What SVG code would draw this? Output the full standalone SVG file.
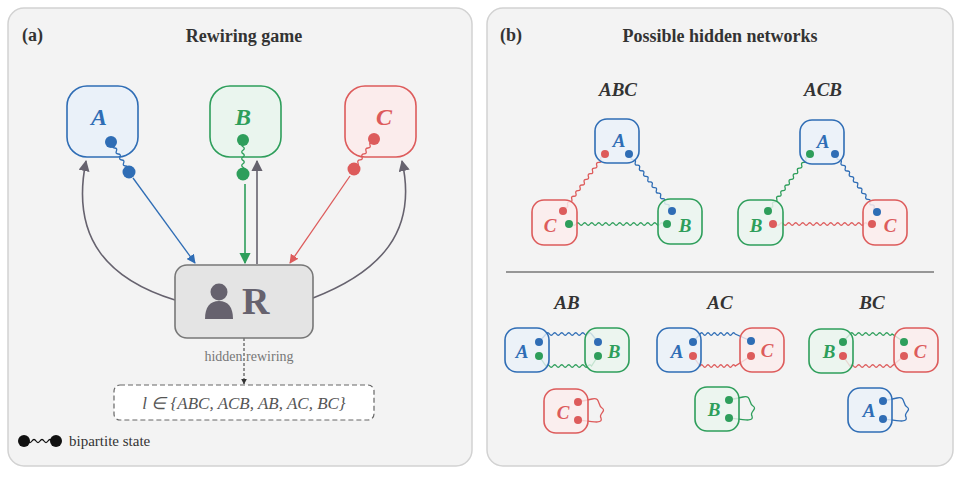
<svg xmlns="http://www.w3.org/2000/svg" width="960" height="490" viewBox="0 0 960 490">
<style>
.panel{fill:#f3f3f3;stroke:#d2d2d2;stroke-width:1.5}
.ttl{font-family:"Liberation Serif",serif;font-weight:bold;font-size:18px;fill:#333}
.lbl{font-family:"Liberation Serif",serif;font-weight:bold;font-style:italic;text-anchor:middle}
.big{font-size:24px}.sm{font-size:19px}
.nA{fill:#eaf1f9;stroke:#2f6db5;stroke-width:1.6}
.nB{fill:#eaf5ee;stroke:#2e9e5b;stroke-width:1.6}
.nC{fill:#fbecec;stroke:#dd5b5b;stroke-width:1.6}
.tA{fill:#2f6db5}.tB{fill:#2e9e5b}.tC{fill:#dd5b5b}
.w{fill:none;stroke-width:1.3}
.wA{stroke:#2f6db5}.wB{stroke:#2e9e5b}.wC{stroke:#dd5b5b}
.g{fill:none;stroke:#66626e;stroke-width:1.6}
</style>
<defs>
<marker id="mg" viewBox="0 0 10 10" refX="9" refY="5" markerWidth="7" markerHeight="7" orient="auto"><path d="M0,0L10,5L0,10z" fill="#66626e"/></marker>
<marker id="mb" viewBox="0 0 10 10" refX="9" refY="5" markerWidth="7" markerHeight="7" orient="auto"><path d="M0,0L10,5L0,10z" fill="#2f6db5"/></marker>
<marker id="mgr" viewBox="0 0 10 10" refX="9" refY="5" markerWidth="7" markerHeight="7" orient="auto"><path d="M0,0L10,5L0,10z" fill="#2e9e5b"/></marker>
<marker id="mr" viewBox="0 0 10 10" refX="9" refY="5" markerWidth="7" markerHeight="7" orient="auto"><path d="M0,0L10,5L0,10z" fill="#dd5b5b"/></marker>
<marker id="mk" viewBox="0 0 10 10" refX="9" refY="5" markerWidth="6" markerHeight="6" orient="auto"><path d="M0,0L10,5L0,10z" fill="#333"/></marker>
</defs>

<rect class="panel" x="8" y="8" width="464" height="458" rx="16"/>
<rect class="panel" x="487" y="8" width="466" height="458" rx="16"/>
<text class="ttl" x="22" y="41">(a)</text>
<text class="ttl" x="244" y="42" text-anchor="middle">Rewiring game</text>
<text class="ttl" x="500" y="41">(b)</text>
<text class="ttl" x="720" y="42" text-anchor="middle">Possible hidden networks</text>

<g id="connectors">
<path class="g" d="M175,300 C110,280 70,240 86,161" marker-end="url(#mg)"/>
<path class="g" d="M313,298 C380,272 418,232 402,161" marker-end="url(#mg)"/>
<path class="g" d="M257,264 L257,161" marker-end="url(#mg)"/>
<path d="M133,178 L195,263" stroke="#2f6db5" stroke-width="1.3" marker-end="url(#mb)"/>
<path d="M245,184 L245,263" stroke="#2e9e5b" stroke-width="1.6" marker-end="url(#mgr)"/>
<path d="M350,176 L290,263" stroke="#dd5b5b" stroke-width="1.3" marker-end="url(#mr)"/>
<path d="M244,338 L244,384" stroke="#333" stroke-width="1" stroke-dasharray="3,2" fill="none" marker-end="url(#mk)"/>
</g>

<g id="node-A">
<rect class="nA" x="67" y="86" width="71" height="71" rx="20"/>
<text class="lbl big tA" x="99" y="125">A</text>
<path class="w wA" transform="translate(111,142) rotate(59)" d="M0,0 q1.75,-2.5 3.5,0 t3.5,0 t3.5,0 t3.5,0 t3.5,0 t3.5,0 t3.5,0 t3.5,0 t3.5,0 t3.5,0"/>
<circle cx="111" cy="142" r="6" fill="#2f6db5"/><circle cx="129" cy="172" r="6.5" fill="#2f6db5"/>
</g>
<g id="node-B">
<rect class="nB" x="210" y="86" width="71" height="71" rx="20"/>
<text class="lbl big tB" x="243" y="125">B</text>
<path class="w wB" transform="translate(243,140) rotate(90)" d="M0,0 q1.7,-2.5 3.4,0 t3.4,0 t3.4,0 t3.4,0 t3.4,0 t3.4,0 t3.4,0 t3.4,0 t3.4,0 t3.4,0"/>
<circle cx="243" cy="140" r="6" fill="#2e9e5b"/><circle cx="243" cy="174" r="6.5" fill="#2e9e5b"/>
</g>
<g id="node-C">
<rect class="nC" x="345" y="86" width="71" height="71" rx="20"/>
<text class="lbl big tC" x="384" y="125">C</text>
<path class="w wC" transform="translate(374,139) rotate(123.7)" d="M0,0 q1.8,-2.5 3.6,0 t3.6,0 t3.6,0 t3.6,0 t3.6,0 t3.6,0 t3.6,0 t3.6,0 t3.6,0 t3.6,0"/>
<circle cx="374" cy="139" r="6" fill="#dd5b5b"/><circle cx="354" cy="169" r="6.5" fill="#dd5b5b"/>
</g>
<g id="node-R">
<rect x="175" y="265" width="138" height="73" rx="12" fill="#e4e4e4" stroke="#777" stroke-width="1.6"/>
<circle cx="219" cy="292" r="8.5" fill="#66626e"/>
<path d="M205,319 C205,307 210,301 219,301 C228,301 233,307 233,319 Z" fill="#66626e"/>
<text x="242" y="314" font-family="Liberation Serif,serif" font-weight="bold" font-size="38" fill="#66626e">R</text>
</g>
<g id="label-hidden">
<text x="249" y="361" text-anchor="middle" font-family="Liberation Serif,serif" font-size="14" fill="#777">hidden rewiring</text>
</g>
<g id="node-set">
<rect x="114" y="385" width="260" height="35" rx="6" fill="#fff" stroke="#666" stroke-width="1.2" stroke-dasharray="5,3"/>
<text x="244" y="409" text-anchor="middle" font-family="Liberation Serif,serif" font-style="italic" font-size="17" fill="#555">l ∈ {ABC, ACB, AB, AC, BC}</text>
</g>
<g id="legend">
<path class="w" stroke="#111" stroke-width="1.6" transform="translate(24,441)" d="M0,0 q2,-3 4,0 t4,0 t4,0 t4,0 t4,0 t4,0 t4,0 t4,0"/>
<circle cx="24" cy="441" r="6" fill="#111"/><circle cx="56" cy="441" r="6" fill="#111"/>
<text x="69" y="446" font-family="Liberation Serif,serif" font-size="15" fill="#333">bipartite state</text>
</g>

<!-- Panel b -->
<g id="net-ABC">
<text class="lbl sm" x="618" y="96" fill="#333">ABC</text>
<path class="w wC" transform="translate(605,154) rotate(126.4)" d="M0,0 q1.75,-2.5 3.5,0 t3.5,0 t3.5,0 t3.5,0 t3.5,0 t3.5,0 t3.5,0 t3.5,0 t3.5,0 t3.5,0 t3.5,0 t3.5,0 t3.5,0 t3.5,0 t3.5,0 t3.5,0 t3.5,0 t3.5,0 t3.5,0 t3.5,0"/>
<path class="w wA" transform="translate(629,154) rotate(53)" d="M0,0 q1.75,-2.5 3.5,0 t3.5,0 t3.5,0 t3.5,0 t3.5,0 t3.5,0 t3.5,0 t3.5,0 t3.5,0 t3.5,0 t3.5,0 t3.5,0 t3.5,0 t3.5,0 t3.5,0 t3.5,0 t3.5,0 t3.5,0 t3.5,0 t3.5,0"/>
<path class="w wB" transform="translate(569,224)" d="M0,0 q1.75,-2.5 3.5,0 t3.5,0 t3.5,0 t3.5,0 t3.5,0 t3.5,0 t3.5,0 t3.5,0 t3.5,0 t3.5,0 t3.5,0 t3.5,0 t3.5,0 t3.5,0 t3.5,0 t3.5,0 t3.5,0 t3.5,0 t3.5,0 t3.5,0 t3.5,0 t3.5,0 t3.5,0 t3.5,0 t3.5,0 t3.5,0 t3.5,0 t3.5,0"/>
<rect class="nA" x="595" y="119" width="44" height="44" rx="12" fill-opacity="0.85"/>
<text class="lbl sm tA" x="619" y="147">A</text>
<rect class="nC" x="532" y="200" width="45" height="45" rx="12" fill-opacity="0.85"/>
<text class="lbl sm tC" x="550" y="232">C</text>
<rect class="nB" x="658" y="199" width="44" height="45" rx="12" fill-opacity="0.85"/>
<text class="lbl sm tB" x="685" y="232">B</text>
<circle cx="605" cy="154" r="4" fill="#dd5b5b"/><circle cx="629" cy="154" r="4" fill="#2f6db5"/>
<circle cx="563" cy="211" r="4" fill="#dd5b5b"/><circle cx="569" cy="224" r="4" fill="#2e9e5b"/>
<circle cx="672" cy="211" r="4" fill="#2f6db5"/><circle cx="667" cy="224" r="4" fill="#2e9e5b"/>
</g>
<g id="net-ACB">
<text class="lbl sm" x="823" y="96" fill="#333">ACB</text>
<path class="w wB" transform="translate(810,154) rotate(126.4)" d="M0,0 q1.75,-2.5 3.5,0 t3.5,0 t3.5,0 t3.5,0 t3.5,0 t3.5,0 t3.5,0 t3.5,0 t3.5,0 t3.5,0 t3.5,0 t3.5,0 t3.5,0 t3.5,0 t3.5,0 t3.5,0 t3.5,0 t3.5,0 t3.5,0 t3.5,0"/>
<path class="w wA" transform="translate(835,154) rotate(54)" d="M0,0 q1.75,-2.5 3.5,0 t3.5,0 t3.5,0 t3.5,0 t3.5,0 t3.5,0 t3.5,0 t3.5,0 t3.5,0 t3.5,0 t3.5,0 t3.5,0 t3.5,0 t3.5,0 t3.5,0 t3.5,0 t3.5,0 t3.5,0 t3.5,0 t3.5,0"/>
<path class="w wC" transform="translate(773,224)" d="M0,0 q1.75,-2.5 3.5,0 t3.5,0 t3.5,0 t3.5,0 t3.5,0 t3.5,0 t3.5,0 t3.5,0 t3.5,0 t3.5,0 t3.5,0 t3.5,0 t3.5,0 t3.5,0 t3.5,0 t3.5,0 t3.5,0 t3.5,0 t3.5,0 t3.5,0 t3.5,0 t3.5,0 t3.5,0 t3.5,0 t3.5,0 t3.5,0 t3.5,0 t3.5,0"/>
<rect class="nA" x="800" y="120" width="44" height="44" rx="12" fill-opacity="0.85"/>
<text class="lbl sm tA" x="823" y="148">A</text>
<rect class="nB" x="738" y="200" width="45" height="45" rx="12" fill-opacity="0.85"/>
<text class="lbl sm tB" x="756" y="232">B</text>
<rect class="nC" x="863" y="200" width="44" height="45" rx="12" fill-opacity="0.85"/>
<text class="lbl sm tC" x="890" y="232">C</text>
<circle cx="810" cy="154" r="4" fill="#2e9e5b"/><circle cx="835" cy="154" r="4" fill="#2f6db5"/>
<circle cx="768" cy="211" r="4" fill="#2e9e5b"/><circle cx="773" cy="224" r="4" fill="#dd5b5b"/>
<circle cx="877" cy="212" r="4" fill="#2f6db5"/><circle cx="872" cy="224" r="4" fill="#dd5b5b"/>
</g>
<line x1="506" y1="272" x2="934" y2="272" stroke="#777" stroke-width="1.5"/>

<g id="net-AB">
<text class="lbl sm" x="567" y="309" fill="#333">AB</text>
<path class="w wA" d="M539,342 L546,334 q1.75,-2.5 3.5,0 t3.5,0 t3.5,0 t3.5,0 t3.5,0 t3.5,0 t3.5,0 t3.5,0 t3.5,0 t3.5,0 t3.5,0 t3.5,0 t3.5,0 L598,342"/>
<path class="w wB" d="M539,356 L546,366 q1.75,-2.5 3.5,0 t3.5,0 t3.5,0 t3.5,0 t3.5,0 t3.5,0 t3.5,0 t3.5,0 t3.5,0 t3.5,0 t3.5,0 t3.5,0 t3.5,0 L598,356"/>
<rect class="nA" x="505" y="328" width="44" height="44" rx="12" fill-opacity="0.8"/>
<text class="lbl sm tA" x="522" y="358">A</text>
<rect class="nB" x="585" y="328" width="44" height="44" rx="12" fill-opacity="0.8"/>
<text class="lbl sm tB" x="614" y="358">B</text>
<circle cx="539" cy="342" r="4" fill="#2f6db5"/><circle cx="539" cy="356" r="4" fill="#2e9e5b"/>
<circle cx="598" cy="342" r="4" fill="#2f6db5"/><circle cx="598" cy="356" r="4" fill="#2e9e5b"/>
<path class="w wC" d="M578,402 L592,399 C601,397 597,405 602,408 C607,411 598,414 601,418 C603,424 594,422 578,420"/>
<rect class="nC" x="544" y="389" width="44" height="44" rx="12" fill-opacity="0.8"/>
<text class="lbl sm tC" x="563" y="419">C</text>
<circle cx="578" cy="402" r="4" fill="#dd5b5b"/><circle cx="578" cy="420" r="4" fill="#dd5b5b"/>
</g>
<g id="net-AC">
<text class="lbl sm" x="720" y="309" fill="#333">AC</text>
<path class="w wA" d="M693,342 L700,334 q1.6,-2.5 3.2,0 t3.2,0 t3.2,0 t3.2,0 t3.2,0 t3.2,0 t3.2,0 t3.2,0 t3.2,0 t3.2,0 t3.2,0 L751,341"/>
<path class="w wC" d="M693,356 L700,366 q1.6,-2.5 3.2,0 t3.2,0 t3.2,0 t3.2,0 t3.2,0 t3.2,0 t3.2,0 t3.2,0 t3.2,0 t3.2,0 t3.2,0 L751,356"/>
<rect class="nA" x="657" y="328" width="44" height="44" rx="12" fill-opacity="0.8"/>
<text class="lbl sm tA" x="677" y="358">A</text>
<rect class="nC" x="740" y="328" width="44" height="44" rx="12" fill-opacity="0.8"/>
<text class="lbl sm tC" x="767" y="357">C</text>
<circle cx="693" cy="342" r="4" fill="#2f6db5"/><circle cx="693" cy="356" r="4" fill="#dd5b5b"/>
<circle cx="751" cy="341" r="4" fill="#2f6db5"/><circle cx="751" cy="356" r="4" fill="#dd5b5b"/>
<path class="w wB" d="M729,400 L743,397 C752,395 748,403 753,406 C758,409 749,412 752,416 C754,422 745,420 729,418"/>
<rect class="nB" x="695" y="387" width="44" height="44" rx="12" fill-opacity="0.8"/>
<text class="lbl sm tB" x="714" y="416">B</text>
<circle cx="729" cy="400" r="4" fill="#2e9e5b"/><circle cx="729" cy="418" r="4" fill="#2e9e5b"/>
</g>
<g id="net-BC">
<text class="lbl sm" x="872" y="309" fill="#333">BC</text>
<path class="w wB" d="M843,342 L850,334 q1.75,-2.5 3.5,0 t3.5,0 t3.5,0 t3.5,0 t3.5,0 t3.5,0 t3.5,0 t3.5,0 t3.5,0 t3.5,0 t3.5,0 t3.5,0 L904,342"/>
<path class="w wC" d="M843,356 L850,366 q1.75,-2.5 3.5,0 t3.5,0 t3.5,0 t3.5,0 t3.5,0 t3.5,0 t3.5,0 t3.5,0 t3.5,0 t3.5,0 t3.5,0 t3.5,0 L904,356"/>
<rect class="nB" x="809" y="329" width="44" height="44" rx="12" fill-opacity="0.8"/>
<text class="lbl sm tB" x="829" y="358">B</text>
<rect class="nC" x="894" y="328" width="44" height="44" rx="12" fill-opacity="0.8"/>
<text class="lbl sm tC" x="920" y="358">C</text>
<circle cx="843" cy="342" r="4" fill="#2e9e5b"/><circle cx="843" cy="356" r="4" fill="#dd5b5b"/>
<circle cx="904" cy="342" r="4" fill="#2e9e5b"/><circle cx="904" cy="356" r="4" fill="#dd5b5b"/>
<path class="w wA" d="M883,401 L897,398 C906,396 902,404 907,407 C912,410 903,413 906,417 C908,423 899,421 883,419"/>
<rect class="nA" x="848" y="388" width="44" height="44" rx="12" fill-opacity="0.8"/>
<text class="lbl sm tA" x="869" y="417">A</text>
<circle cx="883" cy="401" r="4" fill="#2f6db5"/><circle cx="883" cy="419" r="4" fill="#2f6db5"/>
</g>
</svg>
